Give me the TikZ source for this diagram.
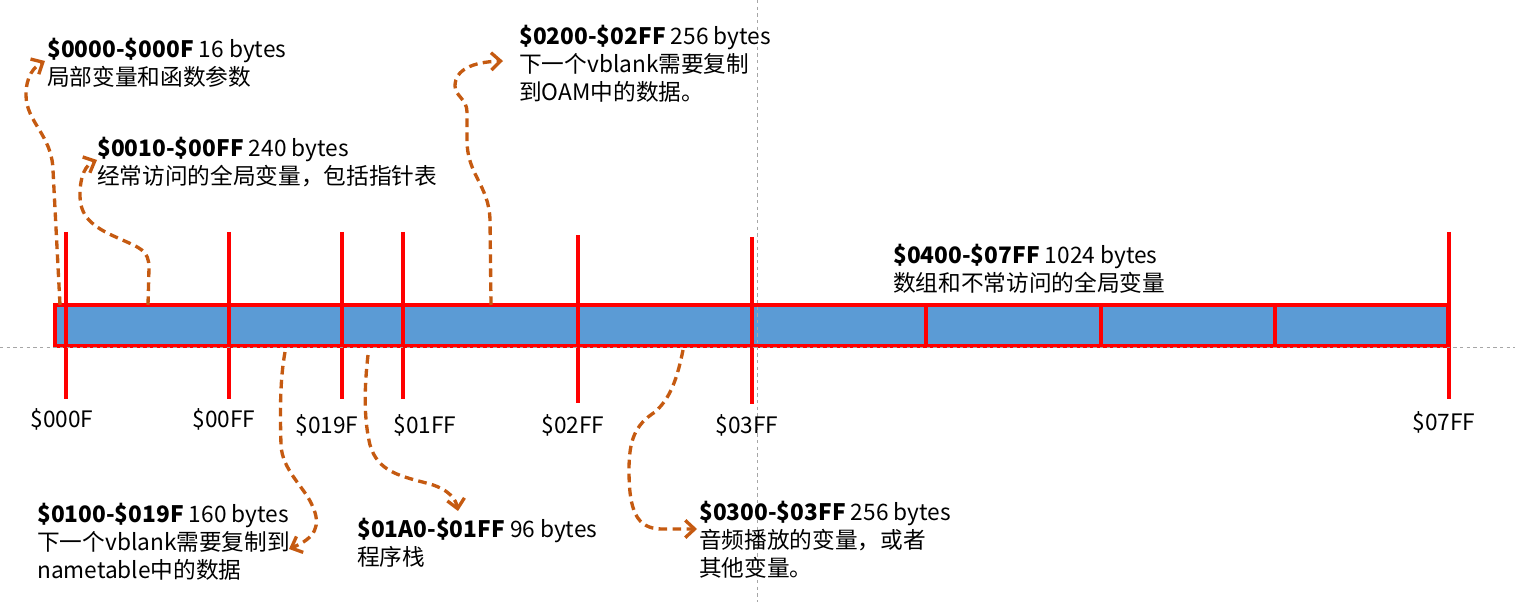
\documentclass[tikz,border=0pt]{standalone}
\usepackage{fontspec}
\setmainfont{Noto Sans CJK SC}
\usetikzlibrary{arrows.meta}
\definecolor{barblue}{HTML}{5B9BD5}
\definecolor{arr}{HTML}{C55A11}
\definecolor{guide}{HTML}{A6A6A6}
\tikzset{
  txt/.style={font=\fontsize{17}{21}\selectfont, inner sep=0pt, anchor=base west},
  tickl/.style={font=\fontsize{17}{21}\selectfont, inner sep=0pt, anchor=base},
  tickline/.style={draw=red, line width=3.5pt},
  divline/.style={draw=red, line width=2.6pt},
  conn/.style={draw=arr, line width=2.5pt, dash pattern=on 6.5pt off 4pt,
     -{Straight Barb[length=7pt,width=13pt]}},
  guideline/.style={draw=guide, line width=0.7pt, dash pattern=on 2.5pt off 2.5pt},
}
\newcommand{\blk}[1]{\begin{tabular}[t]{@{}l@{}}#1\end{tabular}}
\begin{document}
\begin{tikzpicture}[x=0.75pt,y=-0.75pt]
\useasboundingbox (0,0) rectangle (1515,602);
% bar
\draw[draw=red, fill=barblue, line width=3pt] (55,305) rectangle (1448,346);
\foreach \x in {926,1101,1275} \draw[divline] (\x,305) -- (\x,346);
% ticks
\draw[tickline] (66,232) -- (66,399);
\draw[tickline] (229,232) -- (229,399);
\draw[tickline] (342,232) -- (342,399);
\draw[tickline] (403,232) -- (403,399);
\draw[tickline] (578,235) -- (578,403);
\draw[tickline] (752,237) -- (752,404);
\draw[tickline] (1449,232) -- (1449,399);
% guides
\draw[guideline] (0,347) -- (1515,347);
\draw[guideline] (757,0) -- (757,602);
% tick labels
\node[tickl] (l1) at (62,427) {\$000F};
\node[tickl] (l2) at (224,427) {\$00FF};
\node[tickl] (l3) at (327,433) {\$019F};
\node[tickl] (l4) at (425,433) {\$01FF};
\node[tickl] (l5) at (573,433) {\$02FF};
\node[tickl] (l6) at (747,433) {\$03FF};
\node[tickl] (l7) at (1444,430) {\$07FF};
% text blocks
\node[txt] (b1) at (47,58) {\blk{\textbf{\$0000-\$000F} 16 bytes\\局部变量和函数参数}};
\node[txt] (b2) at (97,157) {\blk{\textbf{\$0010-\$00FF} 240 bytes\\经常访问的全局变量，包括指针表}};
\node[txt] (b3) at (519,45) {\blk{\textbf{\$0200-\$02FF} 256 bytes\\下一个vblank需要复制\\到OAM中的数据。}};
\node[txt] (b4) at (893,263) {\blk{\textbf{\$0400-\$07FF} 1024 bytes\\数组和不常访问的全局变量}};
\node[txt] (b5) at (37,522) {\blk{\textbf{\$0100-\$019F} 160 bytes\\下一个vblank需要复制到\\nametable中的数据}};
\node[txt] (b6) at (357,537) {\blk{\textbf{\$01A0-\$01FF} 96 bytes\\程序栈}};
\node[txt] (b7) at (699,520) {\blk{\textbf{\$0300-\$03FF} 256 bytes\\音频播放的变量，或者\\其他变量。}};
% connector end points
\coordinate (s1) at (60,305);  \coordinate (e1) at (45,61);
\coordinate (s2) at (148,305); \coordinate (e2) at (97,160);
\coordinate (s3) at (491,305); \coordinate (e3) at (503,61);
\coordinate (s4) at (285,352); \coordinate (e4) at (289,549);
\coordinate (s5) at (368,355); \coordinate (e5) at (458,511);
\coordinate (s6) at (683,350); \coordinate (e6) at (697,529);
% connectors
\draw[conn] (s1) -- (53,170) .. controls (52,135) and (26,122) .. (26,95)
   .. controls (26,76) and (34,67) .. (e1);
\draw[conn] (s2) -- (149,268) .. controls (149,250) and (140,248) .. (118,238)
   .. controls (90,226) and (80,215) .. (80,195) .. controls (80,175) and (86,165) .. (e2);
\draw[conn] (s3) -- (490,220) .. controls (489,185) and (467,175) .. (467,140) -- (467,112)
   .. controls (467,99) and (455,96) .. (455,86) .. controls (455,70) and (472,62) .. (e3);
\draw[conn] (s4) .. controls (280,380) and (280,410) .. (281,445)
   .. controls (282,470) and (305,488) .. (312,505) .. controls (322,526) and (315,538) .. (e4);
\draw[conn] (s5) .. controls (364,390) and (364,420) .. (370,445)
   .. controls (378,472) and (400,476) .. (430,484) .. controls (450,490) and (456,500) .. (e5);
\draw[conn] (s6) .. controls (676,385) and (668,400) .. (655,412)
   .. controls (635,425) and (629,440) .. (629,470) .. controls (629,510) and (636,529) .. (662,529) -- (e6);
\end{tikzpicture}
\end{document}
